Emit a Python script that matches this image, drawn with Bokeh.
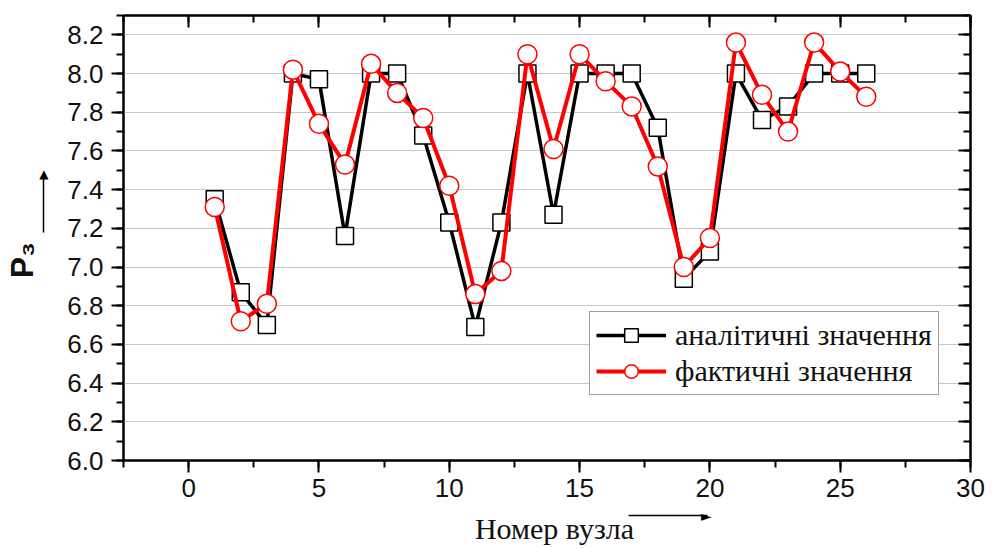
import math
from bokeh.plotting import figure
from bokeh.models import (Range1d, LinearAxis, SingleIntervalTicker, FixedTicker, PrintfTickFormatter,
                          CustomJSTickFormatter, Legend, LegendItem)
from bokeh.embed import file_html
from bokeh.resources import INLINE

# ---- data ----
nodes = list(range(1, 27))
analytic = [7.35, 6.87, 6.70, 8.00, 7.97, 7.16, 8.00, 8.00, 7.68, 7.23,
            6.69, 7.23, 8.00, 7.27, 8.00, 8.00, 8.00, 7.72, 6.94, 7.08,
            8.00, 7.76, 7.83, 8.00, 8.00, 8.00]
actual = [7.31, 6.72, 6.81, 8.02, 7.74, 7.53, 8.05, 7.90, 7.77, 7.42,
          6.86, 6.98, 8.10, 7.61, 8.10, 7.96, 7.83, 7.52, 7.00, 7.15,
          8.16, 7.89, 7.70, 8.16, 8.01, 7.88]
series_names = ["аналітичні значення", "фактичні значення"]
x_label = "Номер вузла"
y_label = "P\u2083"

SANS = "Liberation Sans"
SERIF = "Liberation Serif"
NBSP = "\u00a0"

p = figure(width=992, height=548,
           min_border_left=123, min_border_right=22, min_border_top=15, min_border_bottom=88,
           x_range=Range1d(-2.5, 30), y_range=Range1d(6.0, 8.3),
           output_backend="svg", toolbar_location=None,
           background_fill_color="white", border_fill_color="white")

p.outline_line_color = "black"
p.outline_line_width = 2

for ax in p.xaxis:
    ax.ticker = SingleIntervalTicker(interval=5, num_minor_ticks=2)
for ax in p.yaxis:
    ax.ticker = SingleIntervalTicker(interval=0.2, num_minor_ticks=2)
    ax.formatter = PrintfTickFormatter(format="%.1f")

for ax in list(p.xaxis) + list(p.yaxis):
    ax.axis_line_width = 2
    ax.axis_line_color = "black"
    ax.major_tick_line_width = 2
    ax.minor_tick_line_width = 2
    ax.major_tick_out = 12
    ax.major_tick_in = 0
    ax.minor_tick_out = 7
    ax.minor_tick_in = 0
    ax.major_label_text_font = SANS
    ax.major_label_text_font_size = "26px"
    ax.major_label_text_color = "#111111"
    # invisible spacer label that pushes the arrow axes outward
    ax.axis_label = NBSP
    ax.axis_label_text_font_size = "1px"
p.xaxis.major_label_standoff = 6
p.yaxis.major_label_standoff = 8
p.xaxis.axis_label_standoff = 12
p.yaxis.axis_label_standoff = 17

# mirrored axes (top/right) with inward ticks, no labels
blank = CustomJSTickFormatter(code="return ''")
top = LinearAxis(ticker=SingleIntervalTicker(interval=5, num_minor_ticks=2), formatter=blank)
right = LinearAxis(ticker=SingleIntervalTicker(interval=0.2, num_minor_ticks=2), formatter=blank)
for ax in (top, right):
    ax.axis_line_width = 2
    ax.major_tick_line_width = 2
    ax.minor_tick_line_width = 2
    ax.major_tick_in = 12
    ax.major_tick_out = 0
    ax.minor_tick_in = 7
    ax.minor_tick_out = 0
    ax.major_label_standoff = 0
p.add_layout(top, "above")
p.add_layout(right, "right")

# axis titles: an extra axis whose bounded line is the arrow shaft, a tick label is the
# arrow head and the axis label is the title
x_arrow_axis = LinearAxis(ticker=FixedTicker(ticks=[19.87]), bounds=(16.88, 19.9),
                          major_label_overrides={19.87: "\u25ba"},
                          major_label_text_font="DejaVu Sans", major_label_text_font_size="14px",
                          major_label_text_color="black", major_label_standoff=-8,
                          major_tick_line_color=None, major_tick_out=0, major_tick_in=0,
                          axis_line_width=1.5, axis_line_color="black",
                          axis_label=NBSP + NBSP + x_label,
                          axis_label_text_font=SERIF, axis_label_text_font_size="30px",
                          axis_label_text_font_style="normal", axis_label_text_color="#111111",
                          axis_label_standoff=-15)
p.add_layout(x_arrow_axis, "below")

y_arrow_axis = LinearAxis(ticker=FixedTicker(ticks=[7.483]), bounds=(7.178, 7.46),
                          major_label_overrides={7.483: "\u25b2"},
                          major_label_text_font="DejaVu Sans", major_label_text_font_size="12px",
                          major_label_text_color="black", major_label_standoff=-5,
                          major_tick_line_color=None, major_tick_out=0, major_tick_in=0,
                          axis_line_width=1.5, axis_line_color="black",
                          axis_label=y_label + NBSP * 5,
                          axis_label_text_font=SANS, axis_label_text_font_size="32px",
                          axis_label_text_font_style="bold", axis_label_text_color="#111111",
                          axis_label_standoff=-4)
p.add_layout(y_arrow_axis, "left")

p.xgrid.grid_line_color = "#c8c8c8"
p.ygrid.grid_line_color = "#c8c8c8"
p.xgrid.grid_line_width = 1
p.ygrid.grid_line_width = 1

bl = p.line(nodes, analytic, line_color="black", line_width=3.5)
bs = p.scatter(nodes, analytic, marker="square", size=17, line_color="black",
               line_width=1.5, fill_color="white")
rl = p.line(nodes, actual, line_color="#ff0000", line_width=4)
rc = p.scatter(nodes, actual, marker="circle", size=19, line_color="#ff0000",
               line_width=1.5, fill_color="white")

legend = Legend(items=[LegendItem(label=series_names[0], renderers=[bl, bs]),
                       LegendItem(label=series_names[1], renderers=[rl, rc])],
                location=(466, 65))
legend.label_text_font = SERIF
legend.label_text_font_size = "30px"
legend.label_text_color = "#111111"
legend.glyph_width = 70
legend.glyph_height = 34
legend.label_height = 34
legend.label_standoff = 9
legend.padding = 6
legend.spacing = 2
legend.margin = 0
legend.border_line_color = "#444444"
legend.border_line_width = 1
legend.background_fill_alpha = 1
p.add_layout(legend, "center")

open("out.html", "w").write(file_html(p, INLINE))
